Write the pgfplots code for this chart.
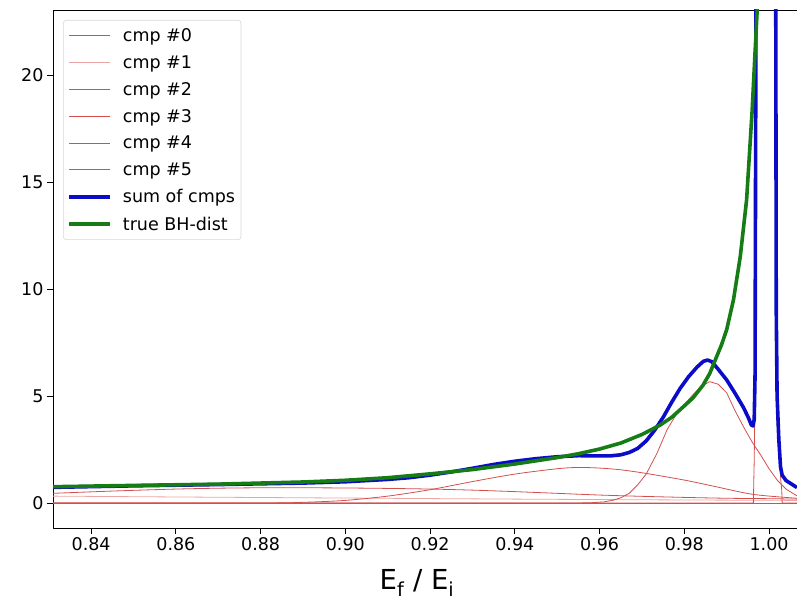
\documentclass[border=0pt]{standalone}
\usepackage{pgfplots}
\pgfplotsset{compat=1.18}
\usepackage{fontspec}
\setmainfont{DejaVu Sans}
\definecolor{cmpred}{RGB}{212,78,78}
\definecolor{cmplight}{RGB}{236,165,165}
\definecolor{sumblue}{RGB}{12,12,200}
\definecolor{truegreen}{RGB}{22,125,22}
\definecolor{legframe}{RGB}{215,215,215}

% components
\pgfplotstableread{
x y
0.831 0.45
0.840 0.52
0.850 0.59
0.860 0.65
0.870 0.69
0.880 0.71
0.890 0.71
0.900 0.70
0.910 0.68
0.920 0.65
0.930 0.60
0.940 0.53
0.950 0.45
0.960 0.37
0.970 0.31
0.980 0.26
0.990 0.22
1.000 0.20
1.0066 0.18
}\cmpA
\pgfplotstableread{
x y
0.831 0.32
0.860 0.28
0.900 0.23
0.940 0.18
0.980 0.14
1.0066 0.12
}\cmpB
\pgfplotstableread{
x y
0.831 0.00
0.880 0.00
0.890 0.03
0.900 0.12
0.910 0.32
0.920 0.62
0.930 1.00
0.940 1.35
0.950 1.60
0.955 1.66
0.960 1.63
0.965 1.55
0.971 1.38
0.980 1.07
0.987 0.78
0.9963 0.40
1.0066 0.22
}\cmpC
\pgfplotstableread{
x y
0.831 0.00
0.955 0.00
0.958 0.01
0.961 0.05
0.963 0.12
0.965 0.24
0.967 0.45
0.969 0.85
0.971 1.35
0.9735 2.30
0.976 3.45
0.978 4.10
0.980 4.60
0.982 5.05
0.984 5.45
0.986 5.67
0.988 5.55
0.990 5.15
0.992 4.30
0.994 3.55
0.996 2.85
0.998 2.25
1.000 1.60
1.002 1.05
1.004 0.65
1.0066 0.33
}\cmpD
\pgfplotstableread{
x y
0.831 0.00
0.9963 0.00
0.9965 2.0
0.9970 10.0
0.9973 80.0
1.0012 80.0
1.0016 20.0
1.0018 4.0
1.0028 1.0
1.0030 0.6
1.0031 0.00
1.0066 0.00
}\cmpE
\pgfplotstableread{
x y
0.831 0.00
1.0066 0.00
}\cmpF
\pgfplotstableread{
x y
0.831 0.73
0.850 0.80
0.870 0.86
0.890 0.93
0.900 0.99
0.910 1.10
0.915 1.18
0.920 1.30
0.925 1.45
0.930 1.62
0.935 1.80
0.940 1.95
0.945 2.07
0.950 2.16
0.955 2.21
0.960 2.20
0.9625 2.20
0.965 2.25
0.967 2.36
0.969 2.55
0.971 2.90
0.973 3.40
0.975 4.00
0.977 4.70
0.979 5.35
0.981 5.90
0.983 6.35
0.9845 6.62
0.9855 6.68
0.9865 6.60
0.988 6.25
0.990 5.75
0.992 5.12
0.994 4.45
0.9952 3.95
0.9958 3.65
0.9962 3.60
0.9965 3.90
0.9967 6.00
0.9970 30.0
1.0014 30.0
1.0016 22.0
1.0017 9.0
1.0019 5.0
1.0023 3.0
1.0027 1.70
1.0031 1.30
1.0040 1.05
1.0066 0.72
}\sumcmp
\pgfplotstableread{
x y
0.831 0.76
0.850 0.82
0.870 0.88
0.890 0.98
0.900 1.06
0.910 1.18
0.920 1.36
0.930 1.56
0.940 1.82
0.950 2.12
0.955 2.30
0.960 2.52
0.965 2.80
0.970 3.20
0.9743 3.64
0.977 4.00
0.9798 4.50
0.982 4.90
0.9844 5.50
0.986 6.05
0.9873 6.68
0.9888 7.40
0.9900 8.10
0.9916 9.49
0.9932 11.5
0.9947 14.16
0.9960 18.3
0.9972 23.04
0.9976 30.0
}\truebh

\begin{document}
\begin{tikzpicture}
\begin{axis}[
    name=main,
    scale only axis,
    width=744pt, height=518pt,
    xmin=0.831, xmax=1.0066,
    ymin=-1.17, ymax=23.04,
    xtick={0.84,0.86,0.88,0.90,0.92,0.94,0.96,0.98,1.00},
    ytick={0,5,10,15,20},
    xticklabel style={/pgf/number format/.cd, fixed, fixed zerofill, precision=2},
    /pgf/number format/assume math mode=true,
    ticklabel style={font=\fontsize{17.5}{21}\selectfont},
    xtick pos=left, ytick pos=left,
    tick align=outside,
    major tick length=6pt,
    tick style={black, line width=0.8pt},
    axis line style={line width=0.8pt},
    xlabel={E\textsubscript{f} / E\textsubscript{i}},
    xlabel style={font=\fontsize{27.5}{32}\selectfont, inner sep=0pt, at={(axis description cs:0.5,0)}, anchor=base, yshift=-62pt, xshift=-8pt},
    legend cell align=left,
    legend style={at={(0,1)}, anchor=north west, xshift=10pt, yshift=-10pt,
        draw=legframe, rounded corners=3pt, line width=0.6pt,
        font=\fontsize{17.5}{21}\selectfont, row sep=8.5pt,
        inner xsep=4pt, inner ysep=6pt,
        /tikz/every odd column/.append style={column sep=9pt}},
    legend image code/.code={\draw[#1] (0pt,0pt) -- (41pt,0pt);},
    clip=true,
    line join=round,
]
\addplot[cmpred, line width=0.8pt, smooth, forget plot] table {\cmpA};
\addlegendimage{cmpred, line width=0.9pt}
\addplot[cmplight, line width=0.8pt, smooth, forget plot] table {\cmpB};
\addlegendimage{cmplight, line width=0.9pt}
\addplot[cmpred, line width=0.8pt, smooth, forget plot] table {\cmpC};
\addlegendimage{cmpred, line width=0.9pt}
\addplot[cmpred, line width=0.8pt, forget plot] table {\cmpD};
\addlegendimage{cmpred, line width=0.9pt}
\addplot[cmpred, line width=0.8pt, forget plot] table {\cmpE};
\addlegendimage{cmpred, line width=0.9pt}
\addplot[cmpred, line width=0.8pt, forget plot] table {\cmpF};
\addlegendimage{cmpred, line width=0.9pt}
\addplot[sumblue, line width=3.6pt] table {\sumcmp};
\addplot[truegreen, line width=3.6pt] table {\truebh};
\legend{cmp \#0, cmp \#1, cmp \#2, cmp \#3, cmp \#4, cmp \#5, sum of cmps, true BH-dist}
\end{axis}
\pgfresetboundingbox
\path ([shift={(-53pt,-73pt)}]main.south west) rectangle ([shift={(0pt,10pt)}]main.north east);
\end{tikzpicture}
\end{document}
